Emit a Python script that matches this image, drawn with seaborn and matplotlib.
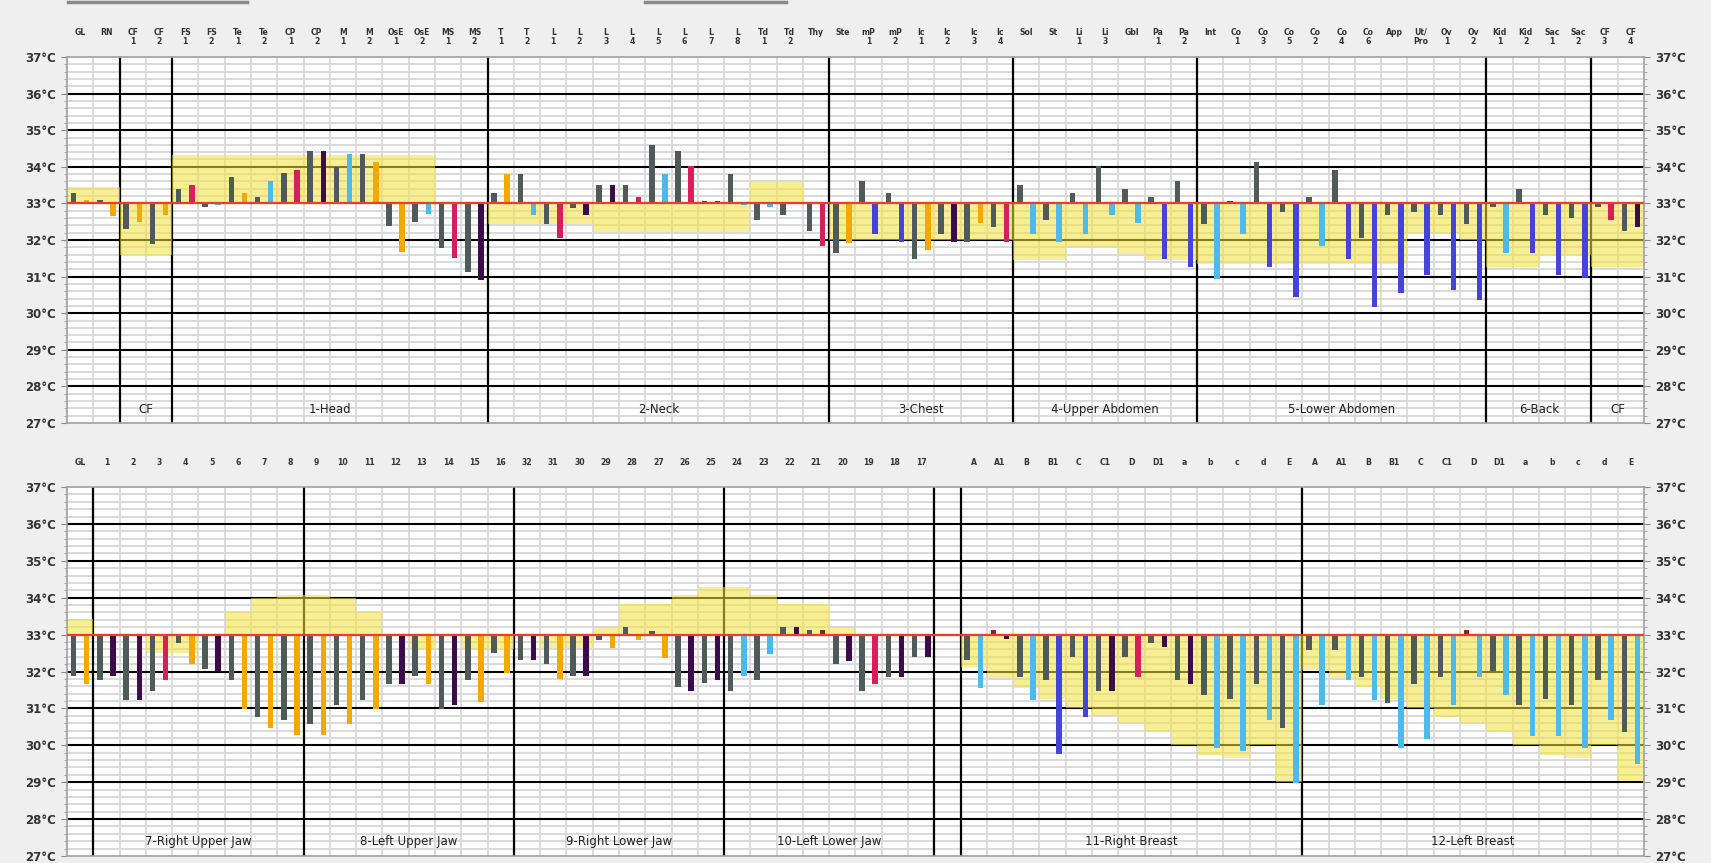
import numpy as np
import pandas as pd
import matplotlib.pyplot as plt
import seaborn as sns

PAL = {'G': '#4f5b58', 'O': '#f5a800', 'P': '#d81e5b', 'B': '#4bbbee',
       'V': '#3d0a4a', 'R': '#4444dc', 'D': '#8b2525'}

#%% top panel data
top_labels = ['GL', 'RN', 'CF\n1', 'CF\n2', 'FS\n1', 'FS\n2', 'Te\n1', 'Te\n2', 'CP\n1', 'CP\n2',
              'M\n1', 'M\n2', 'OsE\n1', 'OsE\n2', 'MS\n1', 'MS\n2', 'T\n1', 'T\n2', 'L\n1', 'L\n2',
              'L\n3', 'L\n4', 'L\n5', 'L\n6', 'L\n7', 'L\n8', 'Td\n1', 'Td\n2', 'Thy', 'Ste',
              'mP\n1', 'mP\n2', 'Ic\n1', 'Ic\n2', 'Ic\n3', 'Ic\n4', 'Sol', 'St', 'Li\n1', 'Li\n3',
              'Gbl', 'Pa\n1', 'Pa\n2', 'Int', 'Co\n1', 'Co\n3', 'Co\n5', 'Co\n2', 'Co\n4', 'Co\n6',
              'App', 'Ut/\nPro', 'Ov\n1', 'Ov\n2', 'Kid\n1', 'Kid\n2', 'Sac\n1', 'Sac\n2', 'CF\n3', 'CF\n4']
top_left = [33.28, 33.10, 32.29, 31.88, 33.39, 32.90, 33.71, 33.18, 33.82, 34.44,
            34.00, 34.35, 32.39, 32.50, 31.79, 31.12, 33.28, 33.81, 32.45, 32.88,
            33.50, 33.50, 34.59, 34.42, 33.06, 33.81, 32.56, 32.68, 32.25, 31.64,
            33.60, 33.28, 31.47, 32.16, 31.95, 32.36, 33.50, 32.56, 33.29, 34.01,
            33.39, 33.18, 33.60, 32.45, 33.06, 34.12, 32.77, 33.18, 33.90, 32.05,
            32.68, 32.77, 32.68, 32.45, 32.89, 33.39, 32.68, 32.59, 32.89, 32.25]
top_left_col = ''.join(['GGGGGGGGGG', 'GGGGGGGGGG', 'GGGGDGGGGG',
                        'GGGGGGGGGG', 'GGGGDGGGGG', 'GGGGGGGGGG'])
top_right = [33.10, 32.66, 32.48, 32.68, 33.50, 32.95, 33.29, 33.60, 33.92, 34.44,
             34.35, 34.13, 31.66, 32.70, 31.52, 30.90, 33.81, 32.68, 32.05, 32.68,
             33.50, 33.18, 33.81, 34.02, 33.06, 32.96, 32.89, 33.04, 31.84, 31.93,
             32.16, 31.95, 31.73, 31.95, 32.47, 31.95, 32.16, 31.95, 32.16, 32.68,
             32.47, 31.47, 31.25, 30.93, 32.16, 31.25, 30.44, 31.84, 31.47, 30.16,
             30.55, 31.05, 30.64, 30.35, 31.64, 31.64, 31.05, 30.95, 32.56, 32.36]
top_right_col = ''.join(['OOOOPBOBPV', 'BOOBPVOBPV', 'VPBPDBBBPO',
                         'RROVOPBBBB', 'BRRBBRRBRR', 'RRRRBRRRPV'])
top_band = [33.45, 33.45, 31.60, 31.60] + [34.32] * 10 + [33, 33] + [32.45] * 4 + [32.23] * 6 \
    + [33.58, 33.58, 33] + [32.0] * 7 + [31.45, 31.45, 31.82, 31.82, 31.62, 31.45, 31.45] \
    + [31.35] * 8 + [32.2, 32.2, 32.0] + [31.25, 31.25, 31.6, 31.6, 31.25, 31.25]
top_sections = [('CF', 2, 3), ('1-Head', 4, 15), ('2-Neck', 16, 28), ('3-Chest', 29, 35),
                ('4-Upper Abdomen', 36, 42), ('5-Lower Abdomen', 43, 53), ('6-Back', 54, 57),
                ('CF', 58, 59)]
top_breaks = [2, 4, 16, 29, 36, 43, 54, 58]

#%% bottom panel data
breast = ['A', 'A1', 'B', 'B1', 'C', 'C1', 'D', 'D1', 'a', 'b', 'c', 'd', 'E']
bot_labels = ['GL'] + [str(i) for i in range(1, 17)] + [str(i) for i in range(32, 16, -1)] \
    + [''] + breast + breast
bot_left = [31.89, 31.77, 31.24, 31.47, 32.76, 32.07, 31.77, 30.78, 30.69, 30.59,
            31.10, 31.24, 31.67, 31.88, 30.99, 31.77, 32.50, 32.30, 32.19, 31.88,
            32.85, 33.20, 33.11, 31.58, 31.68, 31.47, 31.77, 33.20, 33.12, 32.19,
            31.47, 31.86, 32.40, 33.00, 32.31, 33.12, 31.86, 31.77, 32.40, 31.46,
            32.40, 32.77, 31.77, 31.35, 31.26, 31.66, 30.48, 32.57, 32.57, 31.86,
            31.15, 31.66, 31.86, 33.12, 32.00, 31.08, 31.26, 31.08, 31.77, 30.35]
bot_left_col = ''.join(['GGGGGGGGGG', 'GGGGGGGGGG', 'GGGGGGGGGG',
                        'GGGGGDGGGG', 'GGGGGGGGGG', 'GGGDGGGGGG'])
bot_right = [31.67, 31.88, 31.24, 31.77, 32.19, 32.00, 30.99, 30.48, 30.27, 30.27,
             30.59, 30.99, 31.67, 31.67, 31.10, 31.17, 31.95, 32.30, 31.80, 31.88,
             32.65, 32.85, 32.37, 31.47, 31.77, 31.89, 32.48, 33.20, 33.12, 32.28,
             31.67, 31.86, 32.40, 33.00, 31.56, 32.88, 31.22, 29.77, 30.77, 31.46,
             31.86, 32.66, 31.66, 29.94, 29.85, 30.68, 28.98, 31.08, 31.77, 31.22,
             29.94, 30.16, 31.08, 31.86, 31.35, 30.26, 30.26, 29.94, 30.68, 29.50]
bot_right_col = ''.join(['OVVPOVOOOO', 'OOVOVOOVOV', 'OOOVVBBVDV',
                         'PVVBBVBRRV', 'PVVBBBBBBB', 'BBBBBBBBBB'])
bot_band = [33.41, 33, 33, 32.5, 32.5, 33, 33.6, 34.0, 34.07, 34.07, 34.0, 33.6, 33, 32.6,
            33, 32.6, 32.6, 33, 32.65, 32.65, 33.2, 33.82, 33.82, 34.08, 34.3, 34.3, 34.08,
            33.82, 33.82, 33.2, 33, 33, 33, 33,
            32.12, 31.83, 31.55, 31.25, 31.0, 30.79, 30.58, 30.38, 30.0, 29.73, 29.66, 30.0, 29.0,
            32.05, 31.83, 31.57, 31.25, 31.0, 30.77, 30.58, 30.38, 30.0, 29.73, 29.66, 30.0, 29.03]
bot_sections = [('7-Right Upper Jaw', 1, 8), ('8-Left Upper Jaw', 9, 16),
                ('9-Right Lower Jaw', 17, 24), ('10-Left Lower Jaw', 25, 32),
                ('11-Right Breast', 34, 46), ('12-Left Breast', 47, 59)]
bot_breaks = [1, 9, 17, 25, 33, 34, 47]

BASE = 33


def drawPanel(ax, labels, left, lcol, right, rcol, band, sections, breaks):
    n = len(labels)
    cols = np.arange(n)
    ax.set_facecolor('white')

    # grid
    minor = [v for v in np.round(np.arange(27, 37.01, 0.2), 1) if v % 1 != 0]
    ax.hlines(minor, -0.5, n - 0.5, color='#d9d9d9', lw=1.4, zorder=0.5)
    ax.hlines(range(28, 37), -0.5, n - 0.5, color='black', lw=1.5, zorder=0.7)
    ax.vlines(cols[1:] - 0.5, 27, 37, color='#d9d9d9', lw=1.3, zorder=0.5)
    ax.vlines(np.array(breaks) - 0.5, 27, 37, color='black', lw=1.6, zorder=0.8)

    # yellow ranges
    bdf = pd.DataFrame({'col': cols, 'h': np.array(band) - BASE})
    sns.barplot(data=bdf, x='col', y='h', bottom=BASE, width=1, color='#f4e33c', saturation=1,
                alpha=0.55, linewidth=0, errorbar=None, ax=ax, zorder=1)

    # paired bars
    df = pd.DataFrame({'col': np.r_[cols, cols], 'side': ['L'] * n + ['R'] * n,
                       'h': np.r_[left, right] - BASE})
    k = len(ax.containers)
    sns.barplot(data=df, x='col', y='h', hue='side', hue_order=['L', 'R'], bottom=BASE,
                width=1, gap=0.58, dodge=True, errorbar=None, legend=False, linewidth=0,
                saturation=1, palette=['#555555', '#555555'], ax=ax, zorder=3)
    for cont, codes in zip(ax.containers[k:], [lcol, rcol]):
        for bar, code in zip(cont, codes):
            bar.set_facecolor(PAL[code])

    ax.axhline(BASE, color='#e2412b', lw=1.6, zorder=4)

    ax.set_xlim(-0.5, n - 0.5)
    ax.set_ylim(27, 37)
    ax.set_xlabel('')
    ax.set_ylabel('')
    ax.set_xticks([])
    ax.set_yticks(range(27, 38))
    ax.set_yticklabels(['{}°C'.format(v) for v in range(27, 38)])
    ax.set_yticks(np.arange(27, 37.01, 0.2), minor=True)
    ax.tick_params(axis='y', which='major', length=4, width=0.8, color='#888888', pad=4,
                   labelsize=8.5, labelcolor='#333333', left=True, right=True, labelright=True)
    ax.tick_params(axis='y', which='minor', length=2.5, width=0.6, color='#999999',
                   left=True, right=True)
    for lab in ax.get_yticklabels():
        lab.set_fontweight('bold')
    for s in ax.spines.values():
        s.set_color('#a0a0a0')
        s.set_linewidth(1.2)

    for i, lab in enumerate(labels):
        ax.annotate(lab, xy=(i, 1), xycoords=ax.get_xaxis_transform(), xytext=(0, 21),
                    textcoords='offset points', ha='center', va='top', fontsize=5.6,
                    fontweight='bold', color='#333333', linespacing=1.05)
    for name, a, b in sections:
        ax.text((a + b) / 2, 27.38, name, ha='center', va='center', fontsize=8.5,
                color='#222222', zorder=5)


fig = plt.figure(figsize=(17.11, 8.63), dpi=100, facecolor='#efefef')
ax1 = fig.add_axes([67 / 1711, 1 - 423 / 863, 1577 / 1711, 366 / 863])
ax2 = fig.add_axes([67 / 1711, 1 - 856 / 863, 1577 / 1711, 369 / 863])

drawPanel(ax1, top_labels, top_left, top_left_col, top_right, top_right_col, top_band,
          top_sections, top_breaks)
drawPanel(ax2, bot_labels, bot_left, bot_left_col, bot_right, bot_right_col, bot_band,
          bot_sections, bot_breaks)

# remnants of the window frame at the very top
for x0, x1 in [(68, 247), (645, 786)]:
    fig.add_artist(plt.Line2D([x0 / 1711, x1 / 1711], [1 - 2 / 863] * 2, color='#8a8a8a',
                              lw=2.5, transform=fig.transFigure))

fig.savefig('out.png', dpi=100, facecolor=fig.get_facecolor())
